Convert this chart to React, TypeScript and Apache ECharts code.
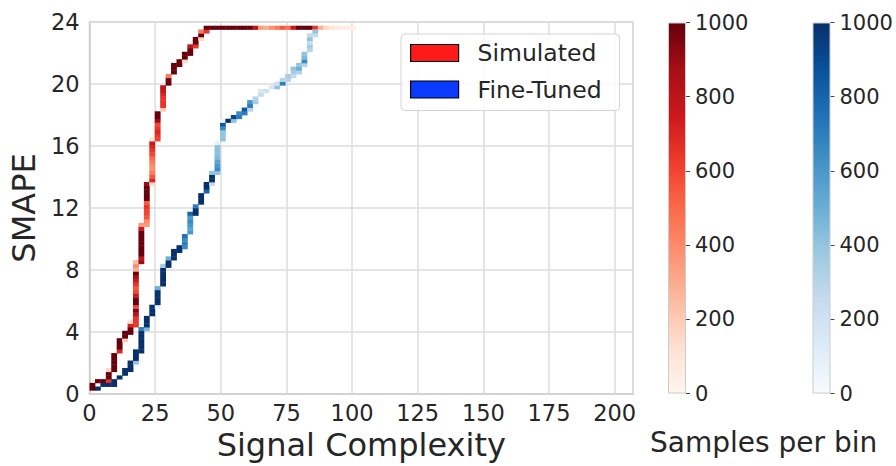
import React, { useEffect, useRef } from "react";
import * as echarts from "echarts";

// Histogram bin geometry (data units)
const X_MAX = 207;
const Y_MAX = 24;
const X_BIN = 2.07;
const Y_BIN = 0.24;

const X_TICK_STEP = 25;
const Y_TICK_STEP = 4;
const CBAR_MAX = 1000;
const CBAR_STEP = 200;

const SERIES_NAMES = ["Simulated", "Fine-Tuned"];
const LEGEND_COLORS = ["#ff1a1a", "#0a3aff"];

const REDS = ["#fff5f0", "#fee0d2", "#fcbba1", "#fc9272", "#fb6a4a", "#ef3b2c", "#cb181d", "#a50f15", "#67000d"];
const BLUES = ["#f7fbff", "#deebf7", "#c6dbef", "#9ecae1", "#6baed6", "#4292c6", "#2171b5", "#08519c", "#08306b"];

// Columns: [xBin, firstYBin, counts for successive y bins]
const simulatedColumns: [number, number, number[]][] = [
  [0, 1, [1000, 1000]],
  [1, 3, [1000]],
  [2, 3, [1000]],
  [3, 3, [650, 1000, 1000, 150]],
  [4, 6, [1000, 1000, 1000, 1000, 1000]],
  [5, 11, [700, 1000, 1000, 1000]],
  [6, 14, [200, 1000, 1000]],
  [7, 16, [1000, 1000, 700, 120]],
  [8, 18, [650, 650, 650, 800, 950, 600, 1000, 1000, 750, 600, 550, 650, 750, 850, 1000, 300, 400, 250]],
  [9, 35, [900, 800, 1000, 1000, 1000, 1000, 1000, 1000, 1000, 750, 350]],
  [10, 45, [350, 400, 550, 600, 600, 650, 550, 1000, 1000, 1000, 1000, 900]],
  [11, 56, [150, 700, 550, 450, 380, 400, 450, 500, 600, 650, 700, 750, 100]],
  [12, 68, [600, 650, 700, 650, 600, 900, 1000, 1000]],
  [13, 76, [200, 650, 650, 650, 700, 750, 800]],
  [14, 83, [1000, 1000, 450]],
  [15, 86, [1000, 1000, 1000]],
  [16, 88, [1000, 1000]],
  [17, 89, [150, 1000, 1000]],
  [18, 91, [1000, 1000, 800]],
  [19, 93, [650, 1000, 1000]],
  [20, 95, [150, 1000, 450]],
  [21, 97, [650, 1000]],
];
// Rows: [yBin, firstXBin, counts for successive x bins]
const simulatedRows: [number, number, number[]][] = [
  [98, 22, [1000, 1000, 1000, 1000, 1000, 1000, 1000, 1000, 800, 350, 300, 380, 450, 550, 480, 750, 1000, 1000, 1000, 650, 280, 150, 90, 70, 60, 50, 45]],
];

const fineTunedColumns: [number, number, number[]][] = [
  [1, 1, [1000]],
  [2, 2, [1000]],
  [3, 2, [1000]],
  [4, 2, [1000, 1000]],
  [5, 4, [1000]],
  [6, 5, [1000, 1000]],
  [7, 6, [1000, 1000, 1000]],
  [8, 8, [400, 1000, 1000, 1000]],
  [9, 11, [1000, 1000, 1000, 1000, 1000, 1000, 700]],
  [10, 17, [450, 1000, 1000, 1000]],
  [11, 21, [1000, 1000, 1000]],
  [12, 23, [80, 1000, 1000, 1000, 1000, 500]],
  [13, 29, [1000, 1000, 1000, 1000, 1000, 350]],
  [14, 34, [1000, 1000, 500]],
  [15, 36, [1000, 1000, 1000]],
  [16, 38, [1000, 1000]],
  [17, 39, [650, 700, 650, 750]],
  [18, 43, [600, 550, 600, 650, 600, 800]],
  [19, 48, [1000, 1000, 700]],
  [20, 51, [1000, 1000, 1000]],
  [21, 54, [800, 1000, 1000]],
  [22, 56, [250, 1000, 1000, 400]],
  [23, 59, [400, 650, 600, 550, 450, 420, 420, 420, 80]],
  [24, 68, [400, 400, 400, 650, 850, 80]],
  [25, 73, [1000]],
  [26, 73, [400, 900]],
  [27, 74, [700, 650]],
  [28, 75, [700, 850]],
  [29, 76, [300, 700, 600]],
  [30, 78, [350, 300]],
  [31, 80, [250, 150]],
  [32, 81, [200]],
  [33, 82, [150]],
  [34, 82, [400, 200]],
  [35, 83, [700, 300]],
  [36, 84, [300, 350]],
  [37, 85, [250, 350, 400]],
  [38, 86, [300, 500, 400]],
  [39, 88, [300, 650, 450, 400]],
  [40, 92, [300, 350, 250, 400, 250]],
  [41, 96, [250, 400]],
];
const fineTunedRows: [number, number, number[]][] = [];

const FONT = "DejaVu Sans";
const TEXT = "#262626";

function buildCells(cols: [number, number, number[]][], rows: [number, number, number[]][]) {
  const out: number[][] = [];
  cols.forEach(([xi, y0, counts]) => {
    counts.forEach((v, k) => {
      const yi = y0 + k;
      out.push([xi * X_BIN, yi * Y_BIN, (xi + 1) * X_BIN, (yi + 1) * Y_BIN, v]);
    });
  });
  rows.forEach(([yi, x0, counts]) => {
    counts.forEach((v, k) => {
      const xi = x0 + k;
      out.push([xi * X_BIN, yi * Y_BIN, (xi + 1) * X_BIN, (yi + 1) * Y_BIN, v]);
    });
  });
  return out;
}

function renderCell(params: any, api: any) {
  const p0 = api.coord([api.value(0), api.value(1)]);
  const p1 = api.coord([api.value(2), api.value(3)]);
  return {
    type: "rect",
    shape: {
      x: p0[0],
      y: p1[1],
      width: p1[0] - p0[0] + 0.4,
      height: p0[1] - p1[1] + 0.4,
    },
    style: { fill: api.visual("color") },
  };
}

function gradient(colors: string[]) {
  const rev = colors.slice().reverse();
  return new echarts.graphic.LinearGradient(
    0, 0, 0, 1,
    rev.map((c, i) => ({ offset: i / (rev.length - 1), color: c }))
  );
}

export default function App() {
  const ref = useRef<HTMLDivElement>(null);
  useEffect(() => {
    if (!ref.current) return;
    const chart = echarts.init(ref.current, undefined, { renderer: "svg" });
    const simCells = buildCells(simulatedColumns, simulatedRows);
    const ftCells = buildCells(fineTunedColumns, fineTunedRows);

    const cbarY = (gridIndex: number) => ({
      type: "value",
      gridIndex,
      min: 0,
      max: CBAR_MAX,
      interval: CBAR_STEP,
      position: "right",
      axisLine: { show: false },
      axisTick: { show: true, length: 4, lineStyle: { color: "#444", width: 1 } },
      splitLine: { show: false },
      axisLabel: {
        fontSize: 21,
        margin: 9,
        color: TEXT,
        fontFamily: FONT,
        formatter: (v: number) => String(v),
      },
    });
    const cbarX = (gridIndex: number) => ({
      type: "category",
      gridIndex,
      data: [""],
      show: false,
    });

    chart.setOption({
      animation: false,
      textStyle: { fontFamily: FONT },
      grid: [
        { left: 87.5, top: 22, width: 545.5, height: 372, show: true, borderColor: "#cfcfcf", borderWidth: 1.5, backgroundColor: "transparent" },
        { left: 668, top: 22.5, width: 18, height: 371 },
        { left: 812.5, top: 22.5, width: 18, height: 371 },
      ],
      xAxis: [
        {
          type: "value",
          gridIndex: 0,
          min: 0,
          max: X_MAX,
          interval: X_TICK_STEP,
          name: "Signal Complexity",
          nameLocation: "middle",
          nameGap: 30,
          nameTextStyle: { fontSize: 32, color: TEXT, fontFamily: FONT },
          axisLine: { show: true, lineStyle: { color: "#cfcfcf", width: 1.5 } },
          axisTick: { show: false },
          axisLabel: { fontSize: 22.5, color: TEXT, margin: 7, showMaxLabel: false, fontFamily: FONT },
          splitLine: { show: true, lineStyle: { color: "#dcdcdc", width: 1.5 } },
        },
        cbarX(1),
        cbarX(2),
      ],
      yAxis: [
        {
          type: "value",
          gridIndex: 0,
          min: 0,
          max: Y_MAX,
          interval: Y_TICK_STEP,
          name: "SMAPE",
          nameLocation: "middle",
          nameGap: 46,
          nameTextStyle: { fontSize: 32, color: TEXT, fontFamily: FONT },
          axisLine: { show: true, lineStyle: { color: "#cfcfcf", width: 1.5 } },
          axisTick: { show: false },
          axisLabel: { fontSize: 22.5, color: TEXT, margin: 10, fontFamily: FONT },
          splitLine: { show: true, lineStyle: { color: "#dcdcdc", width: 1.5 } },
        },
        cbarY(1),
        cbarY(2),
      ],
      visualMap: [
        { type: "continuous", show: false, seriesIndex: 0, dimension: 4, min: 0, max: CBAR_MAX, inRange: { color: REDS } },
        { type: "continuous", show: false, seriesIndex: 1, dimension: 4, min: 0, max: CBAR_MAX, inRange: { color: BLUES } },
      ],
      legend: {
        left: 401,
        top: 34,
        orient: "vertical",
        icon: "rect",
        itemWidth: 48,
        itemHeight: 17,
        itemGap: 12.5,
        padding: [7, 18, 9, 9],
        backgroundColor: "rgba(255,255,255,0.85)",
        borderColor: "#d4d4d4",
        borderWidth: 1,
        borderRadius: 4,
        textStyle: { fontSize: 23.5, color: TEXT, fontFamily: FONT, padding: [0, 0, 0, 14] },
        data: SERIES_NAMES.map((n, i) => ({
          name: n,
          itemStyle: { color: LEGEND_COLORS[i], borderColor: "#000", borderWidth: 1.2 },
        })),
      },
      graphic: [
        {
          type: "text",
          left: 650,
          top: 428,
          style: { text: "Samples per bin", fontSize: 28, fill: TEXT, fontFamily: FONT },
        },
      ],
      series: [
        {
          type: "custom",
          name: SERIES_NAMES[0],
          xAxisIndex: 0,
          yAxisIndex: 0,
          renderItem: renderCell,
          encode: { x: [0, 2], y: [1, 3] },
          data: simCells,
          clip: true,
          silent: true,
        },
        {
          type: "custom",
          name: SERIES_NAMES[1],
          xAxisIndex: 0,
          yAxisIndex: 0,
          renderItem: renderCell,
          encode: { x: [0, 2], y: [1, 3] },
          data: ftCells,
          clip: true,
          silent: true,
        },
        {
          type: "bar",
          xAxisIndex: 1,
          yAxisIndex: 1,
          data: [CBAR_MAX],
          barWidth: "100%",
          silent: true,
          itemStyle: { color: gradient(REDS), borderColor: "#cccccc", borderWidth: 1 },
        },
        {
          type: "bar",
          xAxisIndex: 2,
          yAxisIndex: 2,
          data: [CBAR_MAX],
          barWidth: "100%",
          silent: true,
          itemStyle: { color: gradient(BLUES), borderColor: "#cccccc", borderWidth: 1 },
        },
      ],
    });
    return () => chart.dispose();
  }, []);
  return (
    <div
      ref={ref}
      style={{ position: "fixed", left: 0, top: 0, width: 896, height: 466, background: "#fff" }}
    />
  );
}
